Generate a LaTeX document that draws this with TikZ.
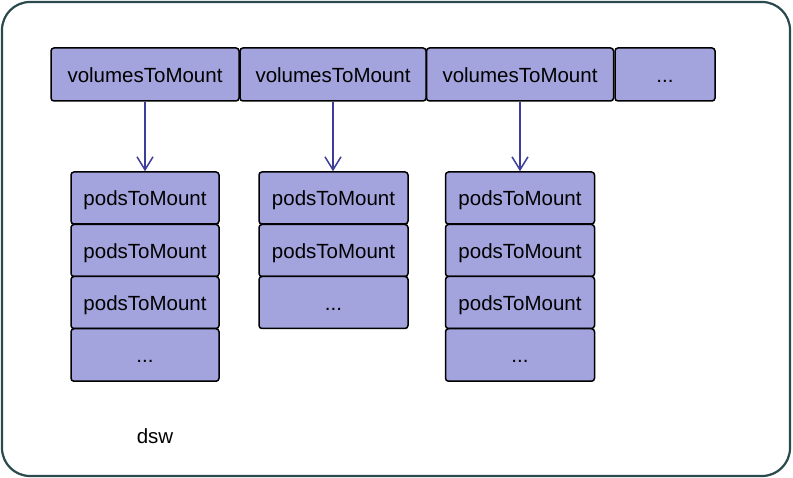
\documentclass[tikz,border=0pt]{standalone}
\usepackage{fontspec}
\setmainfont{Liberation Sans}
\usetikzlibrary{arrows.meta}
\definecolor{boxfill}{HTML}{A3A3DE}
\definecolor{arrowcol}{HTML}{3D3D9A}
\definecolor{framecol}{HTML}{2A4A4E}
\begin{document}
\begin{tikzpicture}[x=1pt,y=-1pt,
  txt/.style={inner sep=0pt,text height=15.5pt,text depth=0pt,
    font=\fontsize{20.5}{24}\selectfont},
  cell/.style={txt,draw=black,fill=boxfill,line width=1.5pt,rounded corners=3pt,
    minimum height=52pt},
  link/.style={draw=arrowcol,line width=1.5pt,-{Straight Barb[length=13pt,width=16pt,line width=1.5pt]}}]
\useasboundingbox (0,0) rectangle (793,478);
\draw[framecol,line width=2.2pt,rounded corners=28pt] (2,2) rectangle (790,476);
% top row
\node[cell,minimum width=188pt,minimum height=53pt] (v1) at (145,74.5) {volumesToMount};
\node[cell,minimum width=186pt,minimum height=53pt] (v2) at (333,74.5) {volumesToMount};
\node[cell,minimum width=187pt,minimum height=53pt] (v3) at (520,74.5) {volumesToMount};
\node[cell,minimum width=100pt,minimum height=53pt] (v4) at (665,74.5) {...};
% column 1
\node[cell,minimum width=148pt] (a1) at (145,198) {podsToMount};
\node[cell,minimum width=148pt] (a2) at (145,250.5) {podsToMount};
\node[cell,minimum width=148pt] (a3) at (145,302.5) {podsToMount};
\node[cell,minimum width=148pt,minimum height=52.5pt] (a4) at (145,355) {...};
% column 2
\node[cell,minimum width=149pt] (b1) at (333.5,198) {podsToMount};
\node[cell,minimum width=149pt] (b2) at (333.5,250.5) {podsToMount};
\node[cell,minimum width=149pt] (b3) at (333.5,302.5) {...};
% column 3
\node[cell,minimum width=149pt] (c1) at (520,198) {podsToMount};
\node[cell,minimum width=149pt] (c2) at (520,250.5) {podsToMount};
\node[cell,minimum width=149pt] (c3) at (520,302.5) {podsToMount};
\node[cell,minimum width=149pt,minimum height=52.5pt] (c4) at (520,355) {...};
% arrows
\draw[link] (v1.south) -- (a1.north);
\draw[link] (v2.south) -- (v2.south |- b1.north);
\draw[link] (v3.south) -- (c1.north);
% label
\node[txt] (dsw) at (155,436) {dsw};
\end{tikzpicture}
\end{document}
